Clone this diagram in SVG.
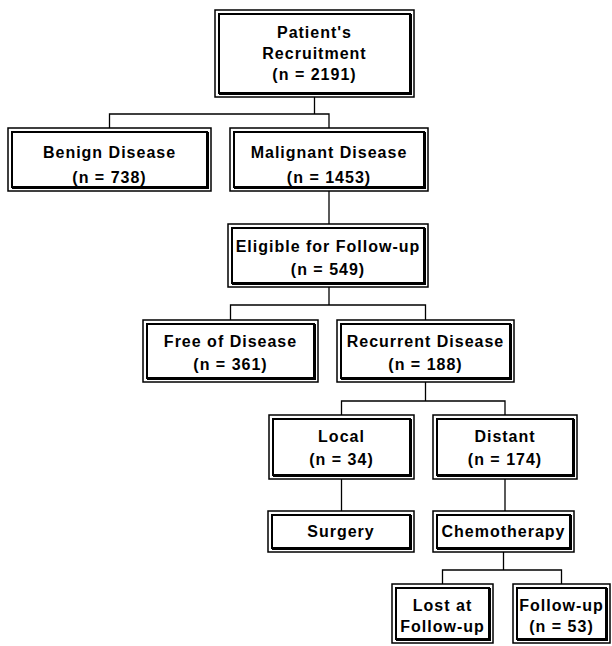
<svg xmlns="http://www.w3.org/2000/svg" width="612" height="646" viewBox="0 0 612 646">
<style>
.o{fill:#fff;stroke:#000;stroke-width:1.5}
.i{fill:none;stroke:#000;stroke-width:2}
.s{fill:none;stroke:#000;stroke-width:3}
.c{fill:none;stroke:#000;stroke-width:1.3}
text{font-family:"Liberation Sans",Arial,sans-serif;font-weight:bold;font-size:16px;letter-spacing:1px;text-anchor:middle;fill:#000}
</style>
<rect width="612" height="646" fill="#fff"/>
<g id="connectors">
<path class="c" d="M314.5 97V114M109.5 128V114H329V128"/>
<path class="c" d="M329 191V224"/>
<path class="c" d="M329 287V305M230.5 320V305H425.5V320"/>
<path class="c" d="M425.5 382V401M341.5 415V401H505V415"/>
<path class="c" d="M341.5 479V511"/>
<path class="c" d="M505 479V511"/>
<path class="c" d="M503.5 552V570M442.5 584V570H561.5V584"/>
</g>
<g id="n1">
<rect class="o" x="215" y="10" width="199" height="87"/>
<rect class="i" x="219" y="14" width="191" height="79"/>
<path class="s" d="M219 93.5H410.5V14"/>
<text x="314.5" y="38">Patient's</text>
<text x="314.5" y="59">Recruitment</text>
<text x="314.5" y="80">(n = 2191)</text>
</g>
<g id="n2">
<rect class="o" x="8" y="128" width="203" height="63"/>
<rect class="i" x="12" y="132" width="195" height="55"/>
<path class="s" d="M12 187.5H207.5V132"/>
<text x="109.5" y="158">Benign Disease</text>
<text x="109.5" y="183">(n = 738)</text>
</g>
<g id="n3">
<rect class="o" x="230" y="128" width="198" height="63"/>
<rect class="i" x="234" y="132" width="190" height="55"/>
<path class="s" d="M234 187.5H424.5V132"/>
<text x="329" y="158">Malignant Disease</text>
<text x="329" y="183">(n = 1453)</text>
</g>
<g id="n4">
<rect class="o" x="228" y="224" width="200" height="63"/>
<rect class="i" x="232" y="228" width="192" height="55"/>
<path class="s" d="M232 283.5H424.5V228"/>
<text x="328" y="252">Eligible for Follow-up</text>
<text x="328" y="275">(n = 549)</text>
</g>
<g id="n5">
<rect class="o" x="143" y="320" width="175" height="62"/>
<rect class="i" x="147" y="324" width="167" height="54"/>
<path class="s" d="M147 378.5H314.5V324"/>
<text x="230.5" y="347">Free of Disease</text>
<text x="230.5" y="370">(n = 361)</text>
</g>
<g id="n6">
<rect class="o" x="337" y="320" width="177" height="62"/>
<rect class="i" x="341" y="324" width="169" height="54"/>
<path class="s" d="M341 378.5H510.5V324"/>
<text x="425.5" y="347">Recurrent Disease</text>
<text x="425.5" y="370">(n = 188)</text>
</g>
<g id="n7">
<rect class="o" x="269" y="415" width="145" height="64"/>
<rect class="i" x="273" y="419" width="137" height="56"/>
<path class="s" d="M273 475.5H410.5V419"/>
<text x="341.5" y="442">Local</text>
<text x="341.5" y="465">(n = 34)</text>
</g>
<g id="n8">
<rect class="o" x="433" y="415" width="144" height="64"/>
<rect class="i" x="437" y="419" width="136" height="56"/>
<path class="s" d="M437 475.5H573.5V419"/>
<text x="505" y="442">Distant</text>
<text x="505" y="465">(n = 174)</text>
</g>
<g id="n9">
<rect class="o" x="268" y="511" width="146" height="41"/>
<rect class="i" x="272" y="515" width="138" height="33"/>
<path class="s" d="M272 548.5H410.5V515"/>
<text x="341" y="537">Surgery</text>
</g>
<g id="n10">
<rect class="o" x="433" y="511" width="141" height="41"/>
<rect class="i" x="437" y="515" width="133" height="33"/>
<path class="s" d="M437 548.5H570.5V515"/>
<text x="503.5" y="537">Chemotherapy</text>
</g>
<g id="n11">
<rect class="o" x="392" y="584" width="101" height="59"/>
<rect class="i" x="396" y="588" width="93" height="51"/>
<path class="s" d="M396 639.5H489.5V588"/>
<text x="442.5" y="611">Lost at</text>
<text x="442.5" y="632">Follow-up</text>
</g>
<g id="n12">
<rect class="o" x="513" y="584" width="97" height="59"/>
<rect class="i" x="517" y="588" width="89" height="51"/>
<path class="s" d="M517 639.5H606.5V588"/>
<text x="561.5" y="611">Follow-up</text>
<text x="561.5" y="632">(n = 53)</text>
</g>
</svg>
